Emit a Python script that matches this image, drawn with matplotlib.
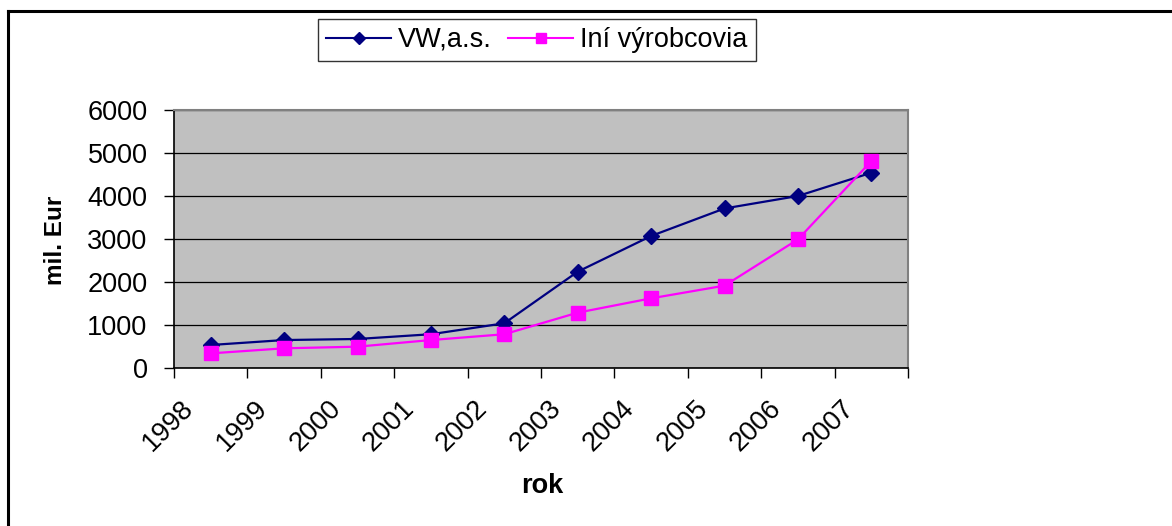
import matplotlib
matplotlib.use("Agg")
import matplotlib.pyplot as plt
from matplotlib.lines import Line2D
from matplotlib.transforms import ScaledTranslation

plt.rcParams['font.family'] = ['Liberation Sans', 'DejaVu Sans']

years = ['1998', '1999', '2000', '2001', '2002', '2003', '2004', '2005', '2006', '2007']
vw = [535, 650, 675, 785, 1040, 2240, 3070, 3710, 4000, 4540]
others = [340, 458, 496, 650, 785, 1287, 1620, 1915, 2990, 4810]
series_names = ['VW,a.s.', 'Iní výrobcovia']
yticks = [0, 1000, 2000, 3000, 4000, 5000, 6000]

FS = 19.5
W, H = 1172, 526
fig = plt.figure(figsize=(W / 100, H / 100), dpi=100)
ax = fig.add_axes([174 / W, 1 - 368 / H, (908 - 174) / W, (368 - 110) / H])
ax.set_facecolor('#C0C0C0')

x = list(range(len(years)))
ax.plot(x, vw, color='#000080', lw=1.6, marker='D', ms=8.3,
        mfc='#000080', mec='#000080', zorder=3)
ax.plot(x, others, color='#FF00FF', lw=1.6, marker='s', ms=10,
        mfc='#FF00FF', mec='#FF00FF', zorder=3)

ax.set_xlim(-0.5, len(years) - 0.5)
ax.set_ylim(0, 6000)
ax.set_yticks(yticks)
ax.set_yticklabels([str(v) for v in yticks], fontsize=FS)
ax.yaxis.grid(True, color='black', lw=0.9)
ax.set_axisbelow(True)

ax.set_xticks([i - 0.5 for i in range(len(years) + 1)])
ax.set_xticklabels([])
ax.set_xticks(x, minor=True)
ax.set_xticklabels(years, minor=True, fontsize=FS, rotation=45,
                   ha='right', va='top', rotation_mode='anchor')
ax.tick_params(axis='x', which='major', direction='out', length=7, width=1, color='black')
ax.tick_params(axis='x', which='minor', length=0, pad=19.5)
ax.tick_params(axis='y', direction='out', length=7, width=1, pad=12, color='black')
off = ScaledTranslation(-30 / 100, 0, fig.dpi_scale_trans)
for lab in ax.get_xticklabels(minor=True):
    lab.set_transform(lab.get_transform() + off)

for s in ['top', 'right']:
    ax.spines[s].set_color('#808080')
    ax.spines[s].set_linewidth(1.5)
for s in ['left', 'bottom']:
    ax.spines[s].set_color('black')
    ax.spines[s].set_linewidth(1.2)

fig.text(55 / W, 1 - 240 / H, 'mil. Eur', rotation=90, fontsize=17.5,
         fontweight='bold', ha='center', va='center')
fig.text(542 / W, 1 - 486 / H, 'rok', fontsize=FS, fontweight='bold',
         ha='center', va='center')

handles = [
    Line2D([], [], color='#000080', lw=1.5, marker='D', ms=6.5,
           mfc='#000080', mec='#000080'),
    Line2D([], [], color='#FF00FF', lw=1.5, marker='s', ms=7,
           mfc='#FF00FF', mec='#FF00FF'),
]
leg = fig.legend(handles, series_names, loc='center',
                 bbox_to_anchor=(537 / W, 1 - 40 / H), ncol=2,
                 fontsize=FS, frameon=True, fancybox=False, shadow=False,
                 handlelength=2.4, handletextpad=0.25, columnspacing=0.6,
                 borderpad=0.3, borderaxespad=0)
leg.get_frame().set_edgecolor('black')
leg.get_frame().set_linewidth(1.0)

# outer frame (top and left edges visible)
fig.add_artist(Line2D([8 / W, 1.0], [1 - 11 / H, 1 - 11 / H], color='black', lw=2.2,
                      transform=fig.transFigure))
fig.add_artist(Line2D([8 / W, 8 / W], [0, 1 - 11 / H], color='black', lw=2.2,
                      transform=fig.transFigure))

fig.savefig('out.png', dpi=100)
